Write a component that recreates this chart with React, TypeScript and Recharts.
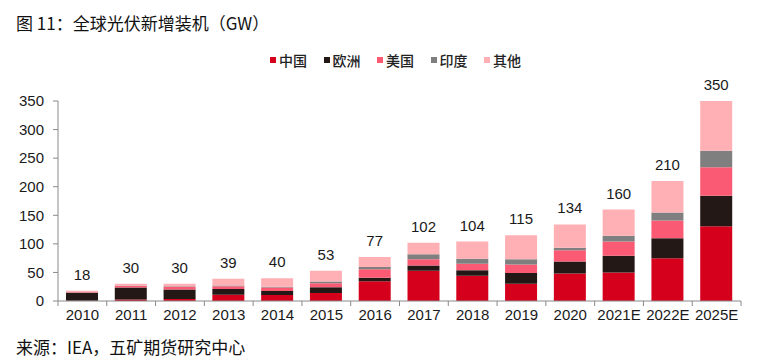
import React from "react";
import { BarChart, Bar, XAxis, YAxis, LabelList } from "recharts";

const years = ["2010", "2011", "2012", "2013", "2014", "2015", "2016", "2017", "2018", "2019", "2020", "2021E", "2022E", "2025E"];
const china = [0.5, 2.7, 3.5, 11, 10.6, 14, 34.5, 53, 44, 30, 48, 50, 75, 131];
const europe = [14, 21, 16.5, 10, 7, 10, 6, 9, 10, 19, 21, 29, 35, 53];
const usa = [0.9, 3, 5, 5, 6.2, 7, 15, 11, 11, 15, 20, 25, 31, 50];
const india = [0.1, 0.3, 1, 1, 1, 3, 4, 9, 9, 9, 4, 10, 14, 29];
const other = [2.5, 3, 4, 12, 15.2, 19, 17.5, 20, 30, 42, 41, 46, 55, 87];
const totals = [18, 30, 30, 39, 40, 53, 77, 102, 104, 115, 134, 160, 210, 350];
const yTicks = [0, 50, 100, 150, 200, 250, 300, 350];

const series = [
  { key: "china", name: "中国", color: "#D5001C" },
  { key: "europe", name: "欧洲", color: "#231815" },
  { key: "usa", name: "美国", color: "#FA5A74" },
  { key: "india", name: "印度", color: "#7F7F7F" },
  { key: "other", name: "其他", color: "#FFB0B5" },
];

const data = years.map((year, i) => ({
  year,
  china: china[i],
  europe: europe[i],
  usa: usa[i],
  india: india[i],
  other: other[i],
  total: totals[i],
}));

const W = 761;
const H = 363;
const margin = { top: 101, right: 20, bottom: 0, left: 0 };
const yAxisW = 58;
const xTickMargin = 8;
const band = (W - margin.left - margin.right - yAxisW) / years.length;
const axisColor = "#898989";
const numFont = "'Liberation Sans', Arial, sans-serif";
const cjkFont = "'Noto Sans CJK SC', sans-serif";

const XTick = (props: any) => {
  const { x, y, payload, index } = props;
  const axisY = y - xTickMargin;
  const half = band / 2;
  return (
    <g>
      <line x1={x - half} y1={axisY} x2={x - half} y2={axisY + 5} stroke={axisColor} />
      {index === years.length - 1 && (
        <line x1={x + half} y1={axisY} x2={x + half} y2={axisY + 5} stroke={axisColor} />
      )}
      <text x={x} y={y} dy="0.71em" textAnchor="middle" fontSize={15} fill="#1a1a1a" fontFamily={numFont}>
        {payload.value}
      </text>
    </g>
  );
};

export default function App() {
  return (
    <div style={{ position: "absolute", left: 0, top: 0, width: W, height: H, background: "#fff" }}>
      <div style={{ position: "absolute", left: 16, top: 13, fontSize: 17, lineHeight: "20px", fontFamily: cjkFont, color: "#111", whiteSpace: "nowrap" }}>
        图 11：全球光伏新增装机（GW）
      </div>
      <div style={{ position: "absolute", left: 270, top: 51, display: "flex", fontFamily: cjkFont, fontSize: 14, lineHeight: "18px", color: "#222" }}>
        {series.map((s) => (
          <div key={s.key} style={{ display: "flex", alignItems: "center", width: 53.5 }}>
            <span style={{ display: "inline-block", width: 6, height: 6, background: s.color, marginRight: 3 }} />
            <span style={{ fontWeight: 500 }}>{s.name}</span>
          </div>
        ))}
      </div>
      <BarChart width={W} height={H} data={data} margin={margin} barSize={32}>
        <XAxis
          dataKey="year"
          height={62}
          interval={0}
          stroke={axisColor}
          tickLine={false}
          tickSize={0}
          tickMargin={xTickMargin}
          tick={<XTick />}
        />
        <YAxis
          width={yAxisW}
          domain={[0, 350]}
          ticks={yTicks}
          stroke={axisColor}
          tickSize={5}
          tickMargin={9}
          tick={{ fontSize: 15, fill: "#1a1a1a", fontFamily: numFont }}
        />
        {series.map((s, i) => (
          <Bar key={s.key} dataKey={s.key} name={s.name} stackId="a" fill={s.color} isAnimationActive={false}>
            {i === series.length - 1 && (
              <LabelList dataKey="total" position="top" offset={11} fontSize={15} fill="#1a1a1a" fontFamily={numFont} />
            )}
          </Bar>
        ))}
      </BarChart>
      <div style={{ position: "absolute", left: 16, top: 337, fontSize: 17, lineHeight: "20px", fontFamily: cjkFont, color: "#111", whiteSpace: "nowrap" }}>
        来源：IEA，五矿期货研究中心
      </div>
    </div>
  );
}
